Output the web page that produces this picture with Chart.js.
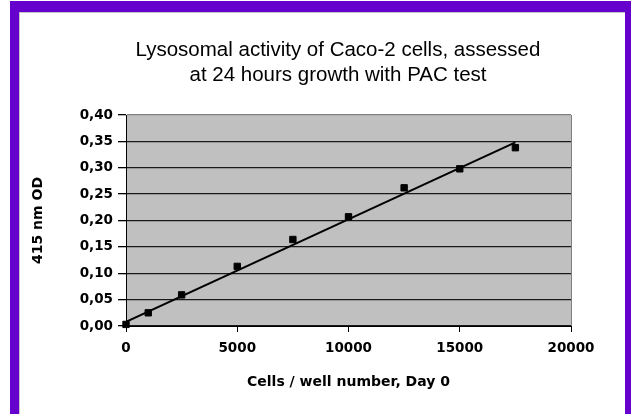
<!DOCTYPE html>
<html>
<head>
<meta charset="utf-8">
<title>Lysosomal activity of Caco-2 cells</title>
<script src="https://cdn.jsdelivr.net/npm/chart.js@4.4.0/dist/chart.umd.min.js"></script>
<style>
  body { margin: 0; background: #fff; }
  #frame { position: absolute; left: 10px; top: 1px; width: 606px; height: 500px; border: 9px solid #6600cc; border-top-width: 11px; background: #fff; }
  #inner { position: absolute; left: 0; top: 0; right: 0; bottom: 0; border-top: 1px solid #c4c4c4; border-left: 1px solid #c4c4c4; }
  #chart { position: absolute; left: 0; top: 0; }
</style>
</head>
<body>
<div id="frame"><div id="inner"></div></div>
<canvas id="chart" width="631" height="414"></canvas>
<script>
var cells = [0, 1000, 2500, 5000, 7500, 10000, 12500, 15000, 17500];
var od = [0.003, 0.025, 0.059, 0.113, 0.164, 0.207, 0.262, 0.298, 0.338];

// linear trend line end points
var trendCells = [0, 17500];
var trendOd = [0.008, 0.348];

var titleLines = ["Lysosomal activity of Caco-2 cells, assessed", "at 24 hours growth with PAC test"];
var xTitle = "Cells / well number, Day 0";
var yTitle = "415 nm OD";

var tickFont = { family: "DejaVu Sans", size: 13.5, weight: "bold" };
var axisTitleFont = { family: "DejaVu Sans", size: 14, weight: "bold" };

// grey plot area background
var plotBg = {
    id: "plotBg",
    beforeDraw: function (chart) {
        var a = chart.chartArea, c = chart.ctx;
        c.save();
        c.fillStyle = "#c0c0c0";
        c.fillRect(a.left, a.top, a.right - a.left, a.bottom - a.top);
        c.restore();
    }
};

function toPoints(xs, ys) {
    var pts = [];
    for (var i = 0; i < xs.length; i++) {
        pts.push({ x: xs[i], y: ys[i] });
    }
    return pts;
}

new Chart(document.getElementById("chart").getContext("2d"), {
    type: "scatter",
    data: {
        datasets: [{
            label: "OD",
            data: toPoints(cells, od),
            pointStyle: "rect",
            pointRadius: 4.5,
            backgroundColor: "#000",
            borderColor: "#000",
            borderWidth: 1,
            showLine: false,
            clip: false,
            order: 0
        }, {
            label: "Linear",
            data: toPoints(trendCells, trendOd),
            showLine: true,
            borderColor: "#000",
            borderWidth: 2,
            pointRadius: 0,
            fill: false,
            order: 1
        }]
    },
    options: {
        responsive: false,
        devicePixelRatio: 1,
        animation: false,
        layout: { padding: { left: 45, right: 0, top: 0, bottom: 0 } },
        plugins: {
            legend: { display: false },
            tooltip: { enabled: false },
            title: {
                display: true,
                text: titleLines,
                color: "#000",
                font: { family: "Liberation Sans", size: 20.5, weight: "normal", lineHeight: 1.22 },
                padding: { top: 38, bottom: 27 }
            }
        },
        scales: {
            x: {
                type: "linear",
                position: "bottom",
                min: 0,
                max: 20000,
                ticks: {
                    stepSize: 5000,
                    color: "#000",
                    font: tickFont,
                    padding: 8,
                    callback: function (v) { return String(v); }
                },
                grid: {
                    color: function (ctx) { return ctx.tick && ctx.tick.value === 20000 ? "#808080" : "rgba(0,0,0,0)"; },
                    tickColor: "#000",
                    tickLength: 6
                },
                border: { color: "#000", width: 1 },
                title: { display: true, text: xTitle, color: "#000", font: axisTitleFont, padding: { top: 0, bottom: 23 } },
                afterFit: function (s) { s.height = 88; }
            },
            y: {
                type: "linear",
                position: "left",
                min: 0,
                max: 0.4,
                ticks: {
                    stepSize: 0.05,
                    color: "#000",
                    font: tickFont,
                    padding: 5,
                    callback: function (v) { return v.toFixed(2).replace(".", ","); }
                },
                grid: {
                    color: function (ctx) { return ctx.tick && ctx.tick.value > 0.399 ? "#808080" : "#1a1a1a"; },
                    tickColor: "#000",
                    tickLength: 8,
                    lineWidth: 1.3
                },
                border: { color: "#000", width: 1 },
                title: { display: true, text: yTitle, color: "#000", font: axisTitleFont, padding: { top: -15, bottom: 0 } },
                afterFit: function (s) { s.width = 81; }
            },
            // empty right-hand box, keeps the plot clear of the frame
            y2: {
                type: "linear",
                position: "right",
                grid: { display: false },
                border: { display: false },
                ticks: { display: false },
                afterFit: function (s) { s.width = 60; }
            }
        }
    },
    plugins: [plotBg]
});
</script>
</body>
</html>
